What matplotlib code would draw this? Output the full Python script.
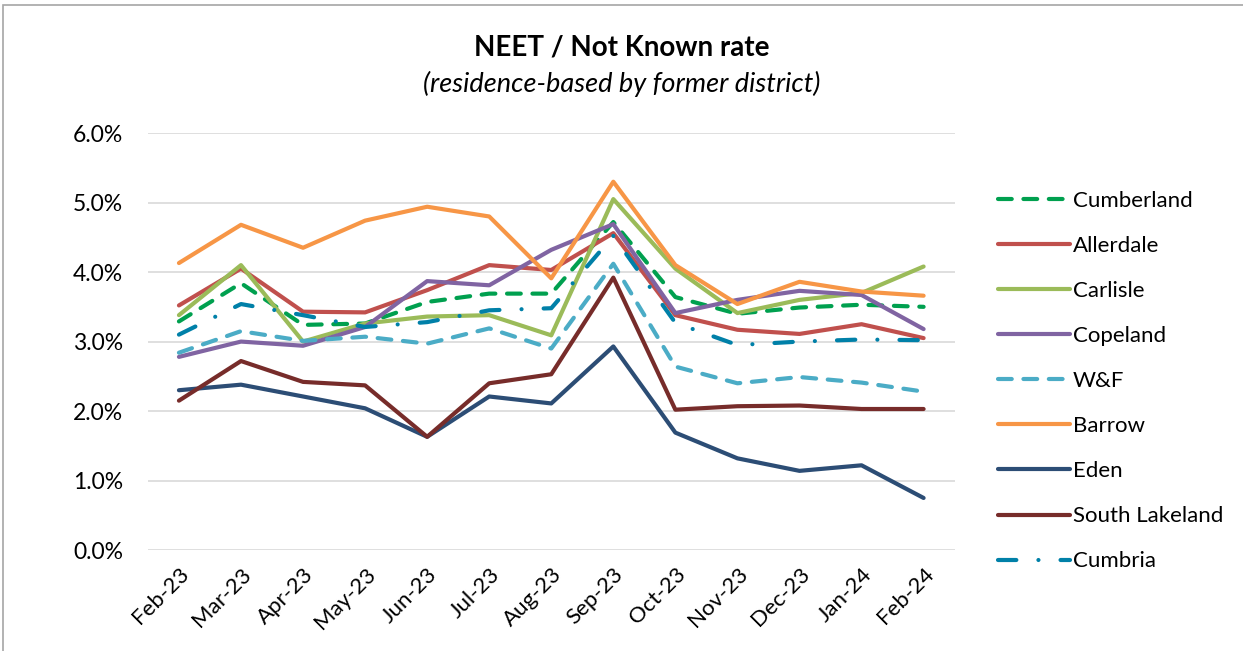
import matplotlib.pyplot as plt
from matplotlib.patches import Rectangle

plt.rcParams['font.family'] = ['Lato', 'DejaVu Sans']

months = ['Feb-23', 'Mar-23', 'Apr-23', 'May-23', 'Jun-23', 'Jul-23', 'Aug-23',
          'Sep-23', 'Oct-23', 'Nov-23', 'Dec-23', 'Jan-24', 'Feb-24']

cumberland = [3.29, 3.84, 3.24, 3.26, 3.57, 3.69, 3.69, 4.72, 3.64, 3.40, 3.49, 3.53, 3.50]
allerdale = [3.52, 4.05, 3.43, 3.42, 3.74, 4.10, 4.03, 4.56, 3.38, 3.17, 3.11, 3.25, 3.05]
carlisle = [3.38, 4.10, 3.00, 3.26, 3.36, 3.38, 3.09, 5.05, 4.05, 3.41, 3.60, 3.70, 4.08]
copeland = [2.78, 3.00, 2.94, 3.21, 3.87, 3.81, 4.32, 4.69, 3.41, 3.60, 3.73, 3.67, 3.18]
wf = [2.84, 3.15, 3.01, 3.07, 2.97, 3.19, 2.90, 4.12, 2.64, 2.40, 2.49, 2.41, 2.28]
barrow = [4.13, 4.68, 4.35, 4.74, 4.94, 4.80, 3.91, 5.30, 4.10, 3.54, 3.86, 3.72, 3.66]
eden = [2.30, 2.38, 2.21, 2.04, 1.63, 2.21, 2.11, 2.93, 1.69, 1.32, 1.14, 1.22, 0.75]
south_lakeland = [2.15, 2.72, 2.42, 2.37, 1.63, 2.40, 2.53, 3.92, 2.02, 2.07, 2.08, 2.03, 2.03]
cumbria = [3.10, 3.54, 3.38, 3.21, 3.28, 3.45, 3.48, 4.52, 3.27, 2.95, 3.00, 3.03, 3.02]

fig = plt.figure(figsize=(12.43, 6.51), dpi=100)
ax = fig.add_axes([0.119, 0.155, 0.649, 0.6406])

x = list(range(len(months)))
dash = (0, (3.3, 2.8))
dashdot = (0, (4.4, 5.3, 0.01, 5.3))

series = [
    ('Cumberland', cumberland, '#00A04F', dash),
    ('Allerdale', allerdale, '#C0504D', '-'),
    ('Carlisle', carlisle, '#9BBB59', '-'),
    ('Copeland', copeland, '#8064A2', '-'),
    ('W&F', wf, '#4BACC6', dash),
    ('Barrow', barrow, '#F79646', '-'),
    ('Eden', eden, '#2C4D75', '-'),
    ('South Lakeland', south_lakeland, '#772C2A', '-'),
    ('Cumbria', cumbria, '#0080A8', dashdot),
]

for name, vals, col, ls in series:
    ax.plot(x, [v / 100 for v in vals], color=col, linestyle=ls, lw=3.0,
            label=name, solid_capstyle='round', dash_capstyle='round',
            solid_joinstyle='round')

ax.set_xlim(-0.5, len(months) - 0.5)
ax.set_ylim(0, 0.06)
ax.set_yticks([i / 100 for i in range(7)])
ax.set_yticklabels([f'{i}.0%' for i in range(7)], fontsize=16.5)
ax.set_xticks(x)
ax.set_xticklabels(months, rotation=45, ha='right', rotation_mode='anchor', fontsize=16)
ax.tick_params(axis='y', length=0, pad=18)
ax.tick_params(axis='x', length=0, pad=10)
ax.grid(axis='y', color='#D9D9D9', lw=1.2)
ax.set_axisbelow(True)
for s in ax.spines.values():
    s.set_visible(False)

fig.text(0.5, 0.927, 'NEET / Not Known rate', ha='center', va='center',
         fontsize=20, fontweight='bold')
fig.text(0.5, 0.871, '(residence-based by former district)', ha='center', va='center',
         fontsize=19.5, style='italic')

fig.legend(loc='upper left', bbox_to_anchor=(0.787, 0.738), frameon=False,
           fontsize=16, handlelength=3.25, handletextpad=0.12, labelspacing=1.13)

fig.patches.append(Rectangle((3 / 1243, -0.1), 1.2, 1.1 - 5 / 651, transform=fig.transFigure,
                             fill=False, edgecolor='#A6A6A6', lw=1.2))

fig.savefig('out.png', dpi=100)
